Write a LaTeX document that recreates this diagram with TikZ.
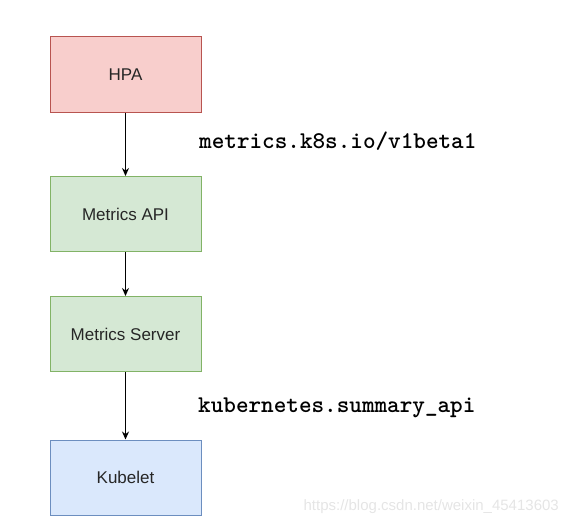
\documentclass[tikz,border=0pt]{standalone}
\usepackage{fontspec}
\setmainfont{Liberation Sans}
\usetikzlibrary{arrows.meta}

\definecolor{redfill}{HTML}{F8CECC}
\definecolor{reddraw}{HTML}{B85450}
\definecolor{greenfill}{HTML}{D5E8D4}
\definecolor{greendraw}{HTML}{82B366}
\definecolor{bluefill}{HTML}{DAE8FC}
\definecolor{bluedraw}{HTML}{6C8EBF}

\tikzset{
  box/.style={rectangle, minimum width=151pt, minimum height=75pt, inner sep=0pt,
    line width=1pt, font=\fontsize{17}{20}\selectfont, text=black!85},
  apilabel/.style={anchor=base west, inner sep=0pt, font=\ttfamily\bfseries\fontsize{24}{27}\selectfont},
  flow/.style={line width=1pt, -{Stealth[length=8pt,width=7pt]}}
}

\begin{document}
\begin{tikzpicture}[x=1pt,y=-1pt]
	\useasboundingbox (0,0) rectangle (569,527);
	\node[box, fill=redfill, draw=reddraw]     (hpa)     at (125.5,74.5) {HPA};
	\node[box, fill=greenfill, draw=greendraw] (api)     at (125.5,214)  {Metrics API};
	\node[box, fill=greenfill, draw=greendraw] (server)  at (125.5,334)  {Metrics Server};
	\node[box, fill=bluefill, draw=bluedraw]   (kubelet) at (125.5,477.5) {Kubelet};
	\draw[flow] (hpa) -- (api);
	\draw[flow] (api) -- (server);
	\draw[flow] (server) -- (kubelet);
	\node[apilabel] (metricslbl) at (199,148) {metrics.k8s.io/v1beta1};
	\node[apilabel] (summarylbl) at (198,412) {kubernetes.summary\_api};
	\node[anchor=east, inner sep=0pt, text=black!10, font=\fontsize{15}{18}\selectfont] (mark) at (559,507) {https://blog.csdn.net/weixin\_45413603};
\end{tikzpicture}
\end{document}
